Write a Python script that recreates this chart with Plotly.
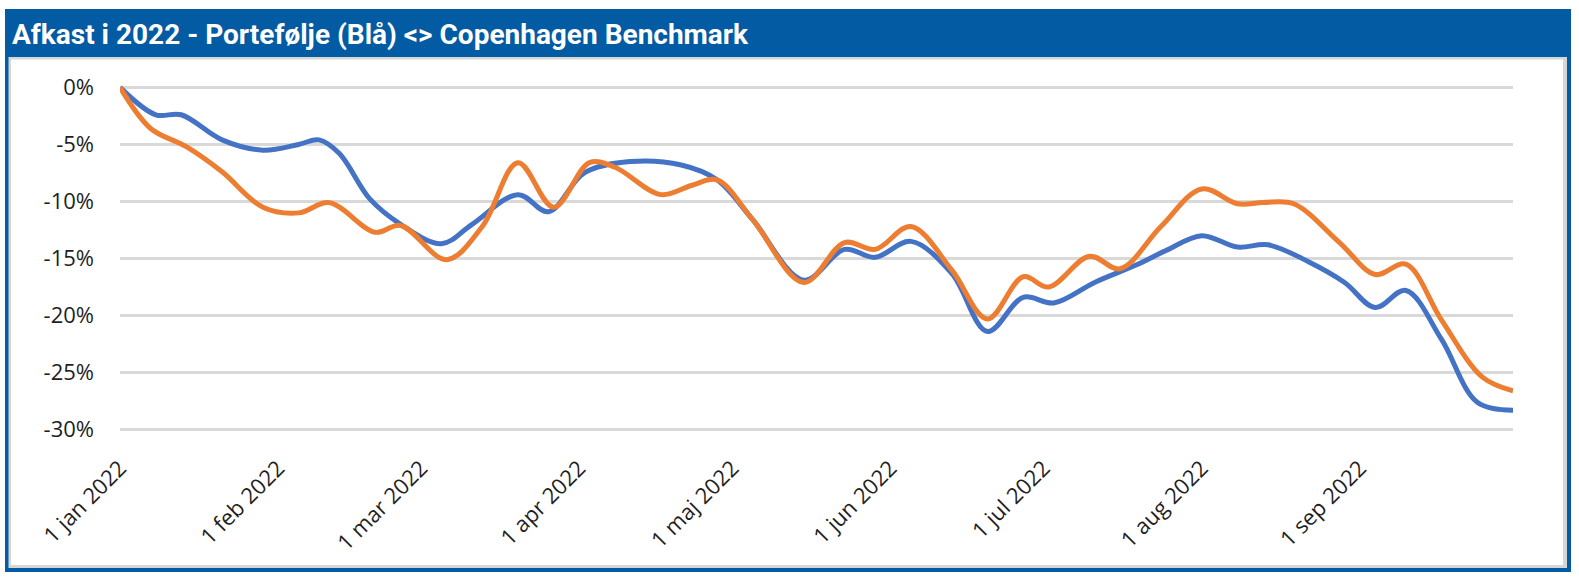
import plotly.graph_objects as go

# ---------------- data ----------------
blue_dates = ["2022-01-01", "2022-01-08", "2022-01-13", "2022-01-21", "2022-01-29",
              "2022-02-05", "2022-02-09", "2022-02-13", "2022-02-19", "2022-02-25",
              "2022-03-05", "2022-03-11", "2022-03-20", "2022-03-26", "2022-04-02",
              "2022-04-11", "2022-04-21", "2022-04-28", "2022-05-05", "2022-05-15",
              "2022-05-23", "2022-05-29", "2022-06-05", "2022-06-13", "2022-06-20",
              "2022-06-27", "2022-07-03", "2022-07-11", "2022-07-19", "2022-07-25",
              "2022-08-01", "2022-08-08", "2022-08-14", "2022-08-22", "2022-08-29",
              "2022-09-04", "2022-09-10", "2022-09-17", "2022-09-24", "2022-10-01"]
blue_values = [0.0, -2.4, -2.4, -4.6, -5.5,
               -5.0, -4.6, -5.8, -9.8, -12.0,
               -13.7, -12.0, -9.4, -10.9, -7.5,
               -6.5, -6.8, -8.1, -11.6, -16.9,
               -14.2, -14.9, -13.5, -16.3, -21.4,
               -18.4, -18.9, -17.1, -15.6, -14.3,
               -13.0, -14.0, -13.8, -15.3, -17.1,
               -19.3, -17.8, -22.1, -27.6, -28.3]

orange_dates = ["2022-01-01", "2022-01-07", "2022-01-14", "2022-01-21", "2022-01-29",
                "2022-02-05", "2022-02-11", "2022-02-20", "2022-02-25", "2022-03-06",
                "2022-03-13", "2022-03-20", "2022-03-27", "2022-04-03", "2022-04-08",
                "2022-04-17", "2022-04-23", "2022-04-28", "2022-05-05", "2022-05-15",
                "2022-05-23", "2022-05-29", "2022-06-05", "2022-06-13", "2022-06-20",
                "2022-06-27", "2022-07-02", "2022-07-10", "2022-07-16", "2022-07-24",
                "2022-08-01", "2022-08-08", "2022-08-13", "2022-08-19", "2022-08-28",
                "2022-09-04", "2022-09-10", "2022-09-17", "2022-09-25", "2022-10-01"]
orange_values = [0.0, -3.6, -5.2, -7.4, -10.5,
                 -11.0, -10.1, -12.7, -12.1, -15.1,
                 -12.2, -6.6, -10.5, -6.6, -7.0,
                 -9.4, -8.6, -8.1, -11.6, -17.1,
                 -13.6, -14.2, -12.2, -16.0, -20.3,
                 -16.6, -17.5, -14.8, -15.9, -12.2,
                 -8.9, -10.2, -10.1, -10.2, -13.6,
                 -16.4, -15.5, -20.4, -25.4, -26.6]

x_tick_vals = ["2022-01-01", "2022-02-01", "2022-03-01", "2022-04-01", "2022-05-01",
               "2022-06-01", "2022-07-01", "2022-08-01", "2022-09-01"]
x_tick_text = ["1 jan 2022", "1 feb 2022", "1 mar 2022", "1 apr 2022", "1 maj 2022",
               "1 jun 2022", "1 jul 2022", "1 aug 2022", "1 sep 2022"]
y_tick_vals = [0, -5, -10, -15, -20, -25, -30]
y_tick_text = ["0%", "-5%", "-10%", "-15%", "-20%", "-25%", "-30%"]

title_text = "Afkast i 2022 - Portefølje (Blå) <> Copenhagen Benchmark"

# ---------------- figure ----------------
W, H = 1579, 578
BLUE_FRAME = "#035BA3"
TICK_FONT = dict(family="Open Sans, sans-serif", size=22, color="#1F1F1F")

fig = go.Figure()
fig.add_trace(go.Scatter(x=blue_dates, y=blue_values, mode="lines",
                         line=dict(color="#4472C4", width=5, shape="spline", smoothing=1.0),
                         name="Portefølje", hoverinfo="x+y"))
fig.add_trace(go.Scatter(x=orange_dates, y=orange_values, mode="lines",
                         line=dict(color="#ED7D31", width=5, shape="spline", smoothing=1.0),
                         name="Copenhagen Benchmark", hoverinfo="x+y"))

ml, mr, mt, mb = 120, 66, 76, 137
PW, PH = W - ml - mr, H - mt - mb


def px(x):
    return (x - ml) / PW


def py(y):
    return (H - mb - y) / PH


fig.update_layout(
    width=W, height=H,
    margin=dict(l=ml, r=mr, t=mt, b=mb),
    paper_bgcolor="white", plot_bgcolor="white",
    showlegend=False,
    font=TICK_FONT,
    xaxis=dict(type="date", range=["2022-01-01", "2022-10-01"],
               tickvals=x_tick_vals, ticktext=x_tick_text, tickangle=-45,
               showgrid=False, zeroline=False, showline=False, ticks="",
               ticklabelstandoff=9, tickfont=TICK_FONT),
    yaxis=dict(range=[-31, 1], tickvals=y_tick_vals, ticktext=y_tick_text,
               showgrid=True, gridcolor="#D9D9D9", gridwidth=2.5,
               zeroline=False, showline=False, ticks="", ticklabelstandoff=25,
               tickfont=TICK_FONT),
    shapes=[
        dict(type="rect", xref="paper", yref="paper", layer="below",
             x0=px(5), x1=px(1571), y0=py(572), y1=py(9),
             fillcolor=BLUE_FRAME, line=dict(width=0)),
        dict(type="rect", xref="paper", yref="paper", layer="below",
             x0=px(8.5), x1=px(1567), y0=py(568), y1=py(57),
             fillcolor="#D6D6D6", line=dict(width=0)),
        dict(type="rect", xref="paper", yref="paper", layer="below",
             x0=px(11), x1=px(1563), y0=py(565), y1=py(59.5),
             fillcolor="white", line=dict(width=0)),
    ],
    annotations=[
        dict(text="<b>" + title_text + "</b>", xref="paper", yref="paper",
             x=px(10), y=py(34), xanchor="left", yanchor="middle", showarrow=False,
             font=dict(family="Roboto, sans-serif", size=28, color="white")),
    ],
)

fig.write_html(
    "out.html",
    config={"displayModeBar": False},
    post_script=("document.body.style.margin='0';"
                 "document.body.style.overflow='hidden';"
                 "document.documentElement.style.overflow='hidden';"),
)
